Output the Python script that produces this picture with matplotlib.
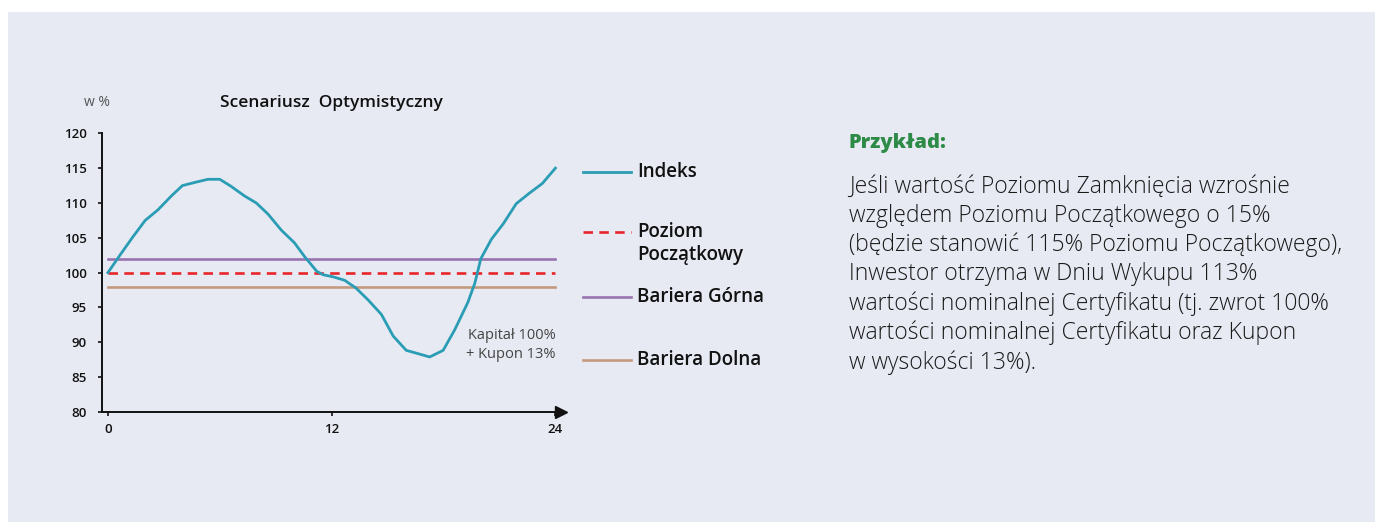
import matplotlib.pyplot as plt
from matplotlib.patches import Rectangle

plt.rcParams['font.family'] = ['Open Sans', 'DejaVu Sans']

# index path (months 0..24)
months = [0, 0.67, 1.33, 2, 2.68, 3.4, 4, 4.74, 5.37, 6, 6.6, 7.33, 7.96, 8.59,
          9.3, 10, 10.55, 11.2, 11.54, 12.08, 12.7, 13.3, 13.95, 14.67, 15.3,
          16, 17.26, 17.98, 18.6, 19.3, 19.68, 20, 20.57, 21.2, 21.9, 22.6, 23.3, 24]
indeks = [100, 102.6, 105.1, 107.5, 109, 111, 112.5, 113, 113.4, 113.4, 112.4, 111,
          110, 108.4, 106.1, 104.3, 102.3, 100.2, 99.7, 99.4, 98.9, 97.8, 96.1, 94,
          90.9, 88.85, 87.9, 88.85, 91.8, 95.7, 98.5, 102, 104.8, 107, 109.9, 111.4,
          112.8, 115]
line_x = [0, 24]
poziom = 100
bariera_gorna = 102
bariera_dolna = 98

xticks = [0, 12, 24]
yticks = [80, 85, 90, 95, 100, 105, 110, 115, 120]

legend_labels = ['Indeks', 'Poziom\nPoczątkowy', 'Bariera Górna', 'Bariera Dolna']

body = ("Jeśli wartość Poziomu Zamknięcia wzrośnie\n"
        "względem Poziomu Początkowego o 15%\n"
        "(będzie stanowić 115% Poziomu Początkowego),\n"
        "Inwestor otrzyma w Dniu Wykupu 113%\n"
        "wartości nominalnej Certyfikatu (tj. zwrot 100%\n"
        "wartości nominalnej Certyfikatu oraz Kupon\n"
        "w wysokości 13%).")

bg = '#e7eaf3'
c_idx = '#2a9db5'
c_red = '#e8262a'
c_pur = '#9a73b1'
c_tan = '#c49a7c'

W, H = 1375, 522
fig = plt.figure(figsize=(W / 100, H / 100), dpi=100)
fig.patches.append(Rectangle((8 / W, 0), 1, 1 - 12 / H, transform=fig.transFigure,
                             facecolor=bg, edgecolor='none', zorder=-1))

ax = fig.add_axes([102.3 / W, (H - 412) / H, (561 - 102.3) / W, (412 - 133.3) / H])
ax.set_facecolor('none')
ax.plot(line_x, [bariera_gorna] * 2, color=c_pur, lw=1.9)
ax.plot(line_x, [bariera_dolna] * 2, color=c_tan, lw=1.9)
ax.plot(line_x, [poziom] * 2, color=c_red, lw=1.9, dashes=(3.6, 2.4))
ax.plot(months, indeks, color=c_idx, lw=2.0, solid_joinstyle='round')

ax.set_xlim(-0.3, 24.3)
ax.set_ylim(80, 120)
ax.set_xticks(xticks)
ax.set_yticks(yticks)
for s in ['top', 'right']:
    ax.spines[s].set_visible(False)
for s in ['left', 'bottom']:
    ax.spines[s].set_linewidth(1.4)
    ax.spines[s].set_color('#111111')
ax.tick_params(axis='y', length=3, width=1.2, pad=8, labelsize=9.5, colors='#111111')
ax.tick_params(axis='x', length=3, width=1.2, pad=5, labelsize=9.5, colors='#111111')
for lab in ax.get_xticklabels() + ax.get_yticklabels():
    lab.set_fontweight('semibold')
ax.plot(1, 0, '>', color='#111111', markersize=8, transform=ax.transAxes, clip_on=False)

fig.text(331 / W, 1 - 103 / H, 'Scenariusz  Optymistyczny', ha='center', va='center',
         fontsize=12.5, fontweight='semibold', color='#111111')
fig.text(84 / W, 1 - 103 / H, 'w %', ha='left', va='center',
         fontsize=10, color='#555555')
ax.text(24, 89.6, 'Kapitał 100%\n+ Kupon 13%', ha='right', va='center', fontsize=10.5,
        color='#444444', linespacing=1.3)

# legend drawn by hand
leg_y = [172, 232, 297, 360]
leg_styles = [dict(color=c_idx, lw=2.0), dict(color=c_red, lw=1.9, dashes=(3.6, 2.4)),
              dict(color=c_pur, lw=1.9), dict(color=c_tan, lw=1.9)]
for y, lab, st in zip(leg_y, legend_labels, leg_styles):
    fy = 1 - y / H
    fig.add_artist(plt.Line2D([583 / W, 631 / W], [fy, fy], transform=fig.transFigure, **st))
    for i, part in enumerate(lab.split('\n')):
        fig.text(637 / W, 1 - (y + 23 * i) / H, part, ha='left', va='center',
                 fontsize=13.5, fontweight='semibold', color='#111111')

fig.text(849 / W, 1 - 143 / H, 'Przykład:', fontsize=14.5, fontweight='heavy',
         color='#2e8b47', ha='left', va='center')
fig.text(849 / W, 1 - 175 / H, body, fontsize=16.5, fontweight='light', color='#1a1a1a',
         ha='left', va='top', linespacing=1.27)

fig.savefig('out.png', dpi=100)
